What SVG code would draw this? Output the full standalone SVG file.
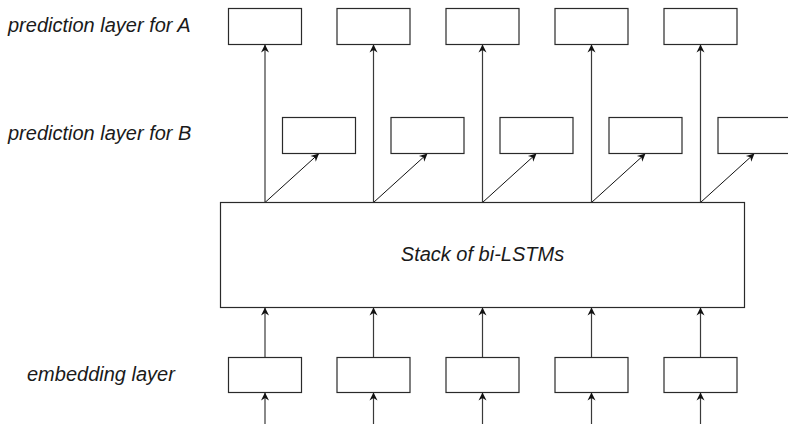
<svg xmlns="http://www.w3.org/2000/svg" width="788" height="425" viewBox="0 0 788 425">
  <style>
    .box { fill: #ffffff; stroke: #2a2a2a; stroke-width: 1.2; }
    .lbl { font-family: "Liberation Sans", Arial, sans-serif; font-style: italic; font-size: 20px; fill: #1a1a1a; }
    .up { stroke: #3a3a3a; stroke-width: 1.2; fill: none; marker-end: url(#head); }
    .diag { stroke: #111111; stroke-width: 1; fill: none; marker-end: url(#head); }
  </style>
  <defs>
    <marker id="head" markerUnits="userSpaceOnUse" markerWidth="12" markerHeight="12" viewBox="-10 -6 12 12" refX="0" refY="0" orient="auto">
      <path d="M0,0 L-8,-4 L-5.5,0 L-8,4 Z" fill="#111111"/>
    </marker>
  </defs>
  <rect width="788" height="425" fill="#ffffff"/>

  <!-- row labels -->
  <text class="lbl" x="8" y="32">prediction layer for A</text>
  <text class="lbl" x="8" y="140">prediction layer for B</text>
  <text class="lbl" x="27" y="381">embedding layer</text>

  <!-- connectors -->
  <g id="connectors">
    <!-- stack to prediction layer A -->
    <line class="up" x1="265" y1="202.5" x2="265" y2="44.5"/>
    <line class="up" x1="373.5" y1="202.5" x2="373.5" y2="44.5"/>
    <line class="up" x1="482.5" y1="202.5" x2="482.5" y2="44.5"/>
    <line class="up" x1="591.5" y1="202.5" x2="591.5" y2="44.5"/>
    <line class="up" x1="700.5" y1="202.5" x2="700.5" y2="44.5"/>
    <!-- stack to prediction layer B -->
    <line class="diag" x1="265" y1="202.5" x2="319" y2="153.5"/>
    <line class="diag" x1="373.5" y1="202.5" x2="427.5" y2="153.5"/>
    <line class="diag" x1="482.5" y1="202.5" x2="536.5" y2="153.5"/>
    <line class="diag" x1="591.5" y1="202.5" x2="645.5" y2="153.5"/>
    <line class="diag" x1="700.5" y1="202.5" x2="754.5" y2="153.5"/>
    <!-- embeddings to stack -->
    <line class="up" x1="265" y1="357.5" x2="265" y2="307.5"/>
    <line class="up" x1="373.5" y1="357.5" x2="373.5" y2="307.5"/>
    <line class="up" x1="482.5" y1="357.5" x2="482.5" y2="307.5"/>
    <line class="up" x1="591.5" y1="357.5" x2="591.5" y2="307.5"/>
    <line class="up" x1="700.5" y1="357.5" x2="700.5" y2="307.5"/>
    <!-- inputs to embeddings -->
    <line class="up" x1="265" y1="424" x2="265" y2="392.5"/>
    <line class="up" x1="373.5" y1="424" x2="373.5" y2="392.5"/>
    <line class="up" x1="482.5" y1="424" x2="482.5" y2="392.5"/>
    <line class="up" x1="591.5" y1="424" x2="591.5" y2="392.5"/>
    <line class="up" x1="700.5" y1="424" x2="700.5" y2="392.5"/>
  </g>

  <!-- prediction layer A -->
  <g id="predA1"><rect class="box" x="228.5" y="8.5" width="73" height="36"/></g>
  <g id="predA2"><rect class="box" x="337" y="8.5" width="73" height="36"/></g>
  <g id="predA3"><rect class="box" x="446" y="8.5" width="73" height="36"/></g>
  <g id="predA4"><rect class="box" x="555" y="8.5" width="73" height="36"/></g>
  <g id="predA5"><rect class="box" x="664" y="8.5" width="73" height="36"/></g>

  <!-- prediction layer B -->
  <g id="predB1"><rect class="box" x="282.5" y="117.5" width="73" height="36"/></g>
  <g id="predB2"><rect class="box" x="391" y="117.5" width="73" height="36"/></g>
  <g id="predB3"><rect class="box" x="500" y="117.5" width="73" height="36"/></g>
  <g id="predB4"><rect class="box" x="609" y="117.5" width="73" height="36"/></g>
  <g id="predB5"><rect class="box" x="718" y="117.5" width="73" height="36"/></g>

  <!-- bi-LSTM stack -->
  <g id="stack">
    <rect class="box" x="220.5" y="202.5" width="524" height="105"/>
    <text class="lbl" x="482.5" y="261" text-anchor="middle">Stack of bi-LSTMs</text>
  </g>

  <!-- embedding layer -->
  <g id="emb1"><rect class="box" x="228.5" y="357.5" width="73" height="35"/></g>
  <g id="emb2"><rect class="box" x="337" y="357.5" width="73" height="35"/></g>
  <g id="emb3"><rect class="box" x="446" y="357.5" width="73" height="35"/></g>
  <g id="emb4"><rect class="box" x="555" y="357.5" width="73" height="35"/></g>
  <g id="emb5"><rect class="box" x="664" y="357.5" width="73" height="35"/></g>
</svg>
